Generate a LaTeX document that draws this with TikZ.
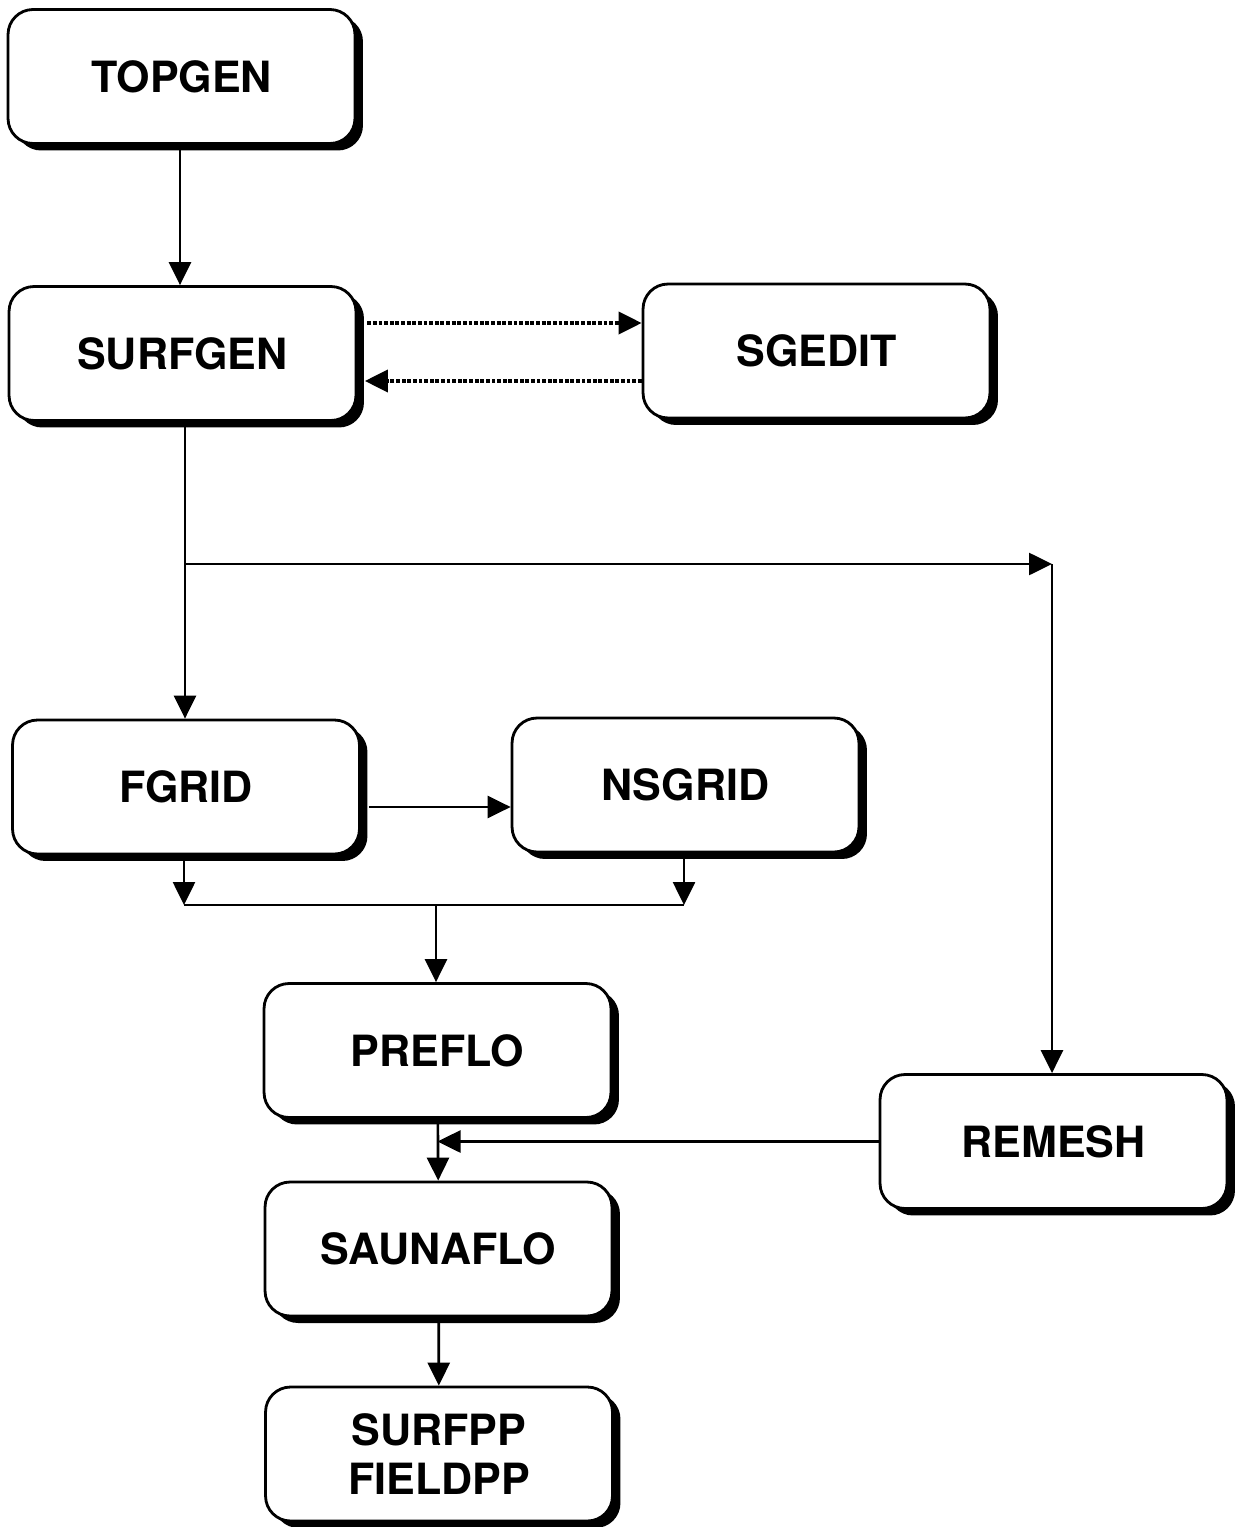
\documentclass[tikz,border=0pt]{standalone}
\usepackage{fontspec}
\setmainfont{TeX Gyre Heros}
\usetikzlibrary{arrows.meta,shadows}

\tikzset{
	prog/.style={draw, line width=1.6pt, rounded corners=0.5cm, fill=white,
		minimum width=6.94cm, minimum height=2.68cm, align=center,
		font=\fontsize{24.5}{28}\selectfont\bfseries,
		drop shadow={shadow xshift=0.16cm, shadow yshift=-0.14cm, fill=black, opacity=1}},
	flow/.style={line width=1.5pt, -{Triangle[length=0.46cm, width=0.44cm]}},
	back/.style={line width=2.2pt, densely dotted, -{Triangle[length=0.46cm, width=0.44cm]}},
}

\begin{document}
\begin{tikzpicture}[x=0.02cm, y=-0.02cm]
		\useasboundingbox (0,0) rectangle (1243,1527);

		\node (topgen) at (181.5, 76.5) [prog] {TOPGEN};
		\node (surfgen) at (182.5, 353.5) [prog] {SURFGEN};
		\node (sgedit) at (816.5, 351) [prog] {SGEDIT};
		\node (fgrid) at (186, 787) [prog] {FGRID};
		\node (nsgrid) at (685.5, 785) [prog] {NSGRID};
		\node (preflo) at (437.5, 1050.5) [prog] {PREFLO};
		\node (remesh) at (1053.5, 1141.5) [prog] {REMESH};
		\node (saunaflo) at (438.5, 1249) [prog] {SAUNAFLO};
		\node (surfpp) at (439, 1454) [prog] {SURFPP\\FIELDPP};

		\coordinate (split) at (185, 564);
		\coordinate (corner) at (1052, 564);
		\coordinate (left) at (184, 905);
		\coordinate (right) at (684, 905);
		\coordinate (merge) at (436, 905);

		\draw[flow] (topgen.south -| 180,0) -- (surfgen.north -| 180,0);
		% SGEDIT
		\draw[back] ([xshift=0.2cm, yshift=0.61cm]surfgen.east) -- ([yshift=0.61cm]surfgen.east -| sgedit.west);
		\draw[back] ([yshift=-0.6cm]sgedit.west) -- ([xshift=0.15cm, yshift=-0.6cm]sgedit.west -| surfgen.east);

		\draw[flow] (surfgen.south -| split) -- (fgrid.north -| split);
		\draw[flow] (split) -- (corner);
		\draw[flow] (corner) -- (corner |- remesh.north);

		\draw[flow] ([xshift=0.16cm, yshift=-0.4cm]fgrid.east) -- ([yshift=-0.4cm]fgrid.east -| nsgrid.west);
		\draw[flow] (fgrid.south -| left) -- (left);
		\draw[flow] (nsgrid.south -| right) -- (right);
		\draw[line width=1.5pt] (left) -- (right);
		\draw[flow] (merge) -- (merge |- preflo.north);

		\draw[flow] (preflo) -- (saunaflo);
		\draw[flow] (remesh.west) -- (remesh.west -| preflo.south);
		\draw[flow] (saunaflo) -- (surfpp);
	\end{tikzpicture}
\end{document}
